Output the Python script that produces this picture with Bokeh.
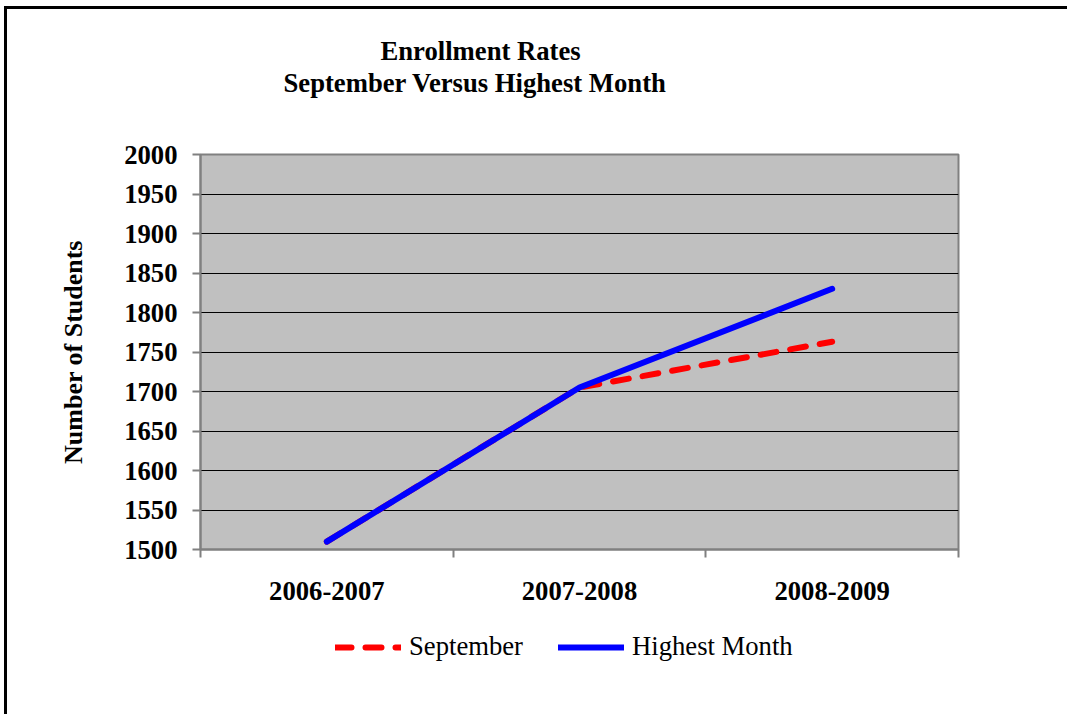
from bokeh.plotting import figure
from bokeh.layouts import column
from bokeh.models import (Range1d, FixedTicker, Title, Legend, LegendItem)
from bokeh.embed import file_html
from bokeh.resources import INLINE

categories = ["2006-2007", "2007-2008", "2008-2009"]
september = [1510, 1705, 1763]
highest_month = [1510, 1705, 1830]
y_ticks = [1500, 1550, 1600, 1650, 1700, 1750, 1800, 1850, 1900, 1950, 2000]
title_lines = ["Enrollment Rates", "September Versus Highest Month"]
series_names = ["September", "Highest Month"]

x_pos = [i + 0.5 for i in range(len(categories))]
boundaries = list(range(len(categories) + 1))

SERIF = "Liberation Serif"
GRAY = "#808080"
RED = "#FF0000"
BLUE = "#0000FF"

p = figure(width=1060, height=610,
           min_border_left=193, min_border_top=145,
           min_border_right=109, min_border_bottom=70,
           x_range=Range1d(0, len(categories)),
           y_range=Range1d(y_ticks[0], y_ticks[-1]),
           output_backend="svg", toolbar_location=None,
           background_fill_color="#C0C0C0", border_fill_color="white",
           outline_line_color=GRAY, outline_line_width=2)

# grid
p.xgrid.grid_line_color = None
p.ygrid.ticker = FixedTicker(ticks=y_ticks)
p.ygrid.grid_line_color = "black"
p.ygrid.grid_line_width = 1

# y axis
yax = p.yaxis[0]
yax.ticker = FixedTicker(ticks=y_ticks)
yax.axis_line_color = GRAY
yax.axis_line_width = 2
yax.major_tick_line_color = GRAY
yax.major_tick_line_width = 2
yax.major_tick_in = 0
yax.major_tick_out = 8
yax.minor_tick_line_color = None
yax.major_label_standoff = 15
yax.major_label_text_font = SERIF
yax.major_label_text_font_style = "bold"
yax.major_label_text_font_size = "20pt"
yax.major_label_text_color = "black"
yax.axis_label = "Number of Students"
yax.axis_label_text_font = SERIF
yax.axis_label_text_font_style = "bold"
yax.axis_label_text_font_size = "19.5pt"
yax.axis_label_text_color = "black"
yax.axis_label_standoff = 33

# x axis
xax = p.xaxis[0]
xax.ticker = FixedTicker(ticks=x_pos, minor_ticks=boundaries)
xax.major_label_overrides = {x: c for x, c in zip(x_pos, categories)}
xax.axis_line_color = GRAY
xax.axis_line_width = 2
xax.major_tick_line_color = None
xax.major_tick_in = 0
xax.major_tick_out = 0
xax.minor_tick_line_color = GRAY
xax.minor_tick_line_width = 2
xax.minor_tick_in = 0
xax.minor_tick_out = 8
xax.major_label_standoff = 24
xax.major_label_text_font = SERIF
xax.major_label_text_font_style = "bold"
xax.major_label_text_font_size = "20pt"
xax.major_label_text_color = "black"

# lines
sep_style = dict(line_color=RED, line_width=6, line_dash="16 14", line_cap="round")
high_style = dict(line_color=BLUE, line_width=6, line_cap="round", line_join="round")
p.line(x_pos, september, **sep_style)
p.line(x_pos, highest_month, **high_style)

# title lines (spacer nearest to the frame first)
p.add_layout(Title(text=" ", text_font_size="10px", standoff=44), "above")
p.add_layout(Title(text=title_lines[1], align="left", offset=83, standoff=0,
                   text_font=SERIF, text_font_style="bold",
                   text_font_size="20pt", text_color="black"), "above")
p.add_layout(Title(text=title_lines[0], align="left", offset=180, standoff=0,
                   text_font=SERIF, text_font_style="bold",
                   text_font_size="20pt", text_color="black"), "above")

# legend strip below the chart (series drawn out of view, only their legend shows)
p2 = figure(width=1060, height=95, min_border=0,
            x_range=Range1d(0, len(categories)), y_range=Range1d(0, 1),
            x_axis_location=None, y_axis_location=None,
            output_backend="svg", toolbar_location=None,
            outline_line_color=None, border_fill_color="white",
            background_fill_color="white")
p2.grid.visible = False
lr_sep = p2.line(x_pos, september, **sep_style)
lr_high = p2.line(x_pos, highest_month, **high_style)
legend = Legend(items=[LegendItem(label=series_names[0], renderers=[lr_sep]),
                       LegendItem(label=series_names[1], renderers=[lr_high])],
                orientation="horizontal", location=(135, 52),
                padding=0, margin=0, spacing=35,
                glyph_width=66, glyph_height=30, label_standoff=8,
                label_text_font=SERIF, label_text_font_size="20pt",
                label_text_color="black",
                background_fill_alpha=0, border_line_color=None)
p2.add_layout(legend, "center")

layout = column(p, p2, spacing=0)
layout.styles = {"border-top": "3px solid black", "border-left": "3px solid black",
                 "margin-left": "4px", "margin-top": "6px"}

open("out.html", "w").write(file_html(layout, INLINE))
